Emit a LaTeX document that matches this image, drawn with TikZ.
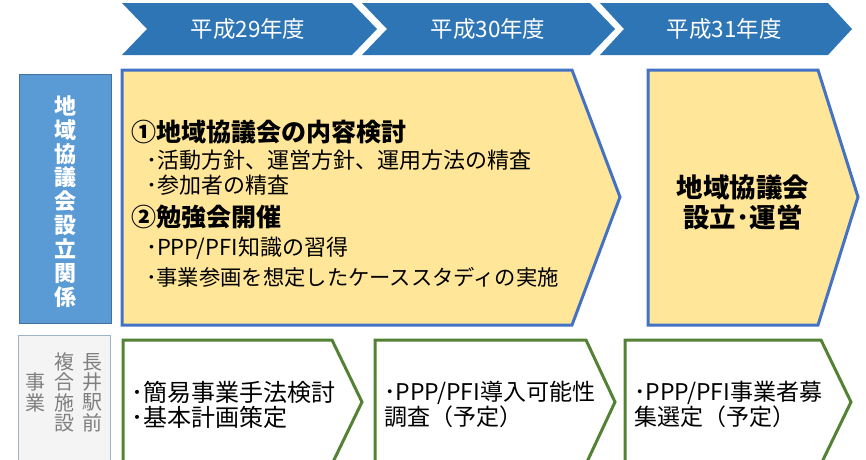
\documentclass[tikz,border=0pt]{standalone}
\usepackage{fontspec}
\setmainfont{Noto Sans CJK JP}
\definecolor{hdrblue}{HTML}{2E75B6}
\definecolor{lblue}{HTML}{5B9BD5}
\definecolor{lblueedge}{HTML}{41719C}
\definecolor{ylw}{HTML}{FFE699}
\definecolor{ylwedge}{HTML}{4472C4}
\definecolor{grn}{HTML}{548235}
\definecolor{grayedge}{HTML}{9DB3CC}
\definecolor{grayfill}{HTML}{F4F4F4}
\definecolor{graytxt}{HTML}{7F7F7F}
\begin{document}
\begin{tikzpicture}[x=1pt,y=-1pt,
  every node/.style={inner sep=0pt,outer sep=0pt},
  hdrshape/.style={fill=hdrblue},
  hdrtxt/.style={text=white,font=\fontsize{22.5}{25}\selectfont},
  ylwshape/.style={fill=ylw,draw=ylwedge,line width=3pt,line join=miter},
  grnshape/.style={fill=white,draw=grn,line width=3pt,line join=miter},
  headtxt/.style={anchor=west,font=\fontsize{25}{28}\bfseries\selectfont},
  subtxt/.style={anchor=west,font=\fontsize{22}{25}\selectfont},
  bigtxt/.style={align=center,font=\fontsize{26.5}{30}\bfseries\selectfont},
  lowtxt/.style={anchor=west,align=left,font=\fontsize{24}{25}\selectfont},
  vlabel/.style={align=center,text=white,font=\fontsize{22}{23.9}\bfseries\selectfont},
  vgray/.style={align=center,text=graytxt,font=\fontsize{20}{20.4}\selectfont}
]
\useasboundingbox (0,0) rectangle (866,459);
\begin{scope}
\clip (0,0) rectangle (866,459);
% header chevrons
\fill[hdrshape] (122,3) -- (352,3) -- (377,29) -- (352,55) -- (122,55) -- (147,29) -- cycle;
\fill[hdrshape] (362,3) -- (590,3) -- (615,29) -- (590,55) -- (362,55) -- (387,29) -- cycle;
\fill[hdrshape] (600,3) -- (828,3) -- (852,29) -- (828,55) -- (600,55) -- (624,29) -- cycle;
\node[hdrtxt] (h29) at (248,29) {平成29年度};
\node[hdrtxt] (h30) at (488,29) {平成30年度};
\node[hdrtxt] (h31) at (724,29) {平成31年度};
% left labels
\node[fill=lblue,draw=lblueedge,line width=0.8pt,minimum width=92pt,minimum height=249pt] (lab1) at (65,198.5) {};
\node[vlabel] (lab1t) at (65,201.5) {地\\域\\協\\議\\会\\設\\立\\関\\係};
\draw[fill=grayfill,draw=grayedge,line width=0.8pt] (18,470) -- (18,335) -- (110,335) -- (110,470);
\node[vgray] (gc1) at (92,392.5) {長\\井\\駅\\前};
\node[vgray] (gc2) at (64,392.5) {複\\合\\施\\設};
\node[vgray] (gc3) at (35,392.5) {事\\業};
% yellow boxes
\draw[ylwshape] (122,70) -- (572,70) -- (620,197) -- (572,325) -- (122,325) -- cycle;
\node[headtxt] (t1) at (131,132) {①地域協議会の内容検討};
\node[subtxt] (t2) at (146,160) {･活動方針、運営方針、運用方法の精査};
\node[subtxt] (t3) at (146,185) {･参加者の精査};
\node[headtxt] (t4) at (131,217) {②勉強会開催};
\node[subtxt] (t5) at (146,248) {･PPP/PFI知識の習得};
\node[subtxt,font=\fontsize{21.3}{25}\selectfont] (t6) at (146,277) {･事業参画を想定したケーススタディの実施};
\draw[ylwshape] (648,70) -- (818,70) -- (858,197) -- (818,325) -- (648,325) -- cycle;
\node[bigtxt] (est) at (743,202) {地域協議会\\設立･運営};
% green boxes
\draw[grnshape] (123,340) -- (332,340) -- (362,402) -- (332,464) -- (123,464) -- cycle;
\draw[grnshape] (375,340) -- (586,340) -- (615,402) -- (586,464) -- (375,464) -- cycle;
\draw[grnshape] (625,340) -- (821,340) -- (851,402) -- (821,464) -- (625,464) -- cycle;
\node[lowtxt] (g1) at (131,404.5) {･簡易事業手法検討\\･基本計画策定};
\node[lowtxt,font=\fontsize{23}{25}\selectfont] (g2) at (384,404.5) {･PPP/PFI導入可能性\\調査（予定）};
\node[lowtxt,font=\fontsize{23}{25}\selectfont] (g3) at (634,404.5) {･PPP/PFI事業者募\\集選定（予定）};
\end{scope}
\end{tikzpicture}
\end{document}
